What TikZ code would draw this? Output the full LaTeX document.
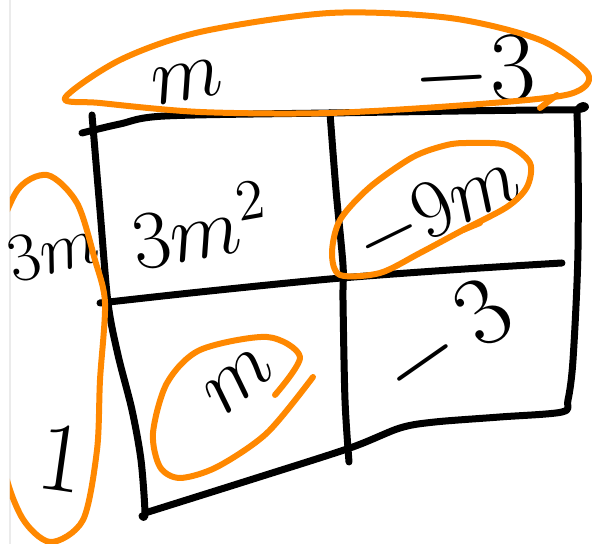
\documentclass[tikz,border=0pt]{standalone}
\usepackage{amsmath}
\usepackage{tikz}
\usetikzlibrary{calc}
\definecolor{penorange}{RGB}{255,136,0}

\begin{document}
\begin{tikzpicture}[x=0.25pt, y=0.25pt, line cap=round, line join=round,
	ink/.style={line width=1.75pt, black},
	marker/.style={line width=1.5pt, penorange},
	term/.style={font=\huge, inner sep=0pt}]
	\useasboundingbox (0,0) rectangle (592,544);
	% edge of the canvas
	\draw[black!8, line width=0.5pt] (10,0) -- (10,544);

	% corners and crossings of the box
	\coordinate (TL) at (92,429);
	\coordinate (TM) at (330,431);
	\coordinate (TR) at (577,428);
	\coordinate (ML) at (100,241);
	\coordinate (MR) at (562,281);
	\coordinate (BL) at (145,31);
	\coordinate (BM) at (349,82);
	\coordinate (BR) at (562,132);

	% box: top, right and bottom side in one stroke, then the left side
	\draw[ink] plot[smooth] coordinates {(82,411) (120,420) (165,428) (TM) (568,434) (TR) (578,294) (573,184) (568,144) (BR) (500,127) (435,122) (400,116) (350,96) (250,64) (BL)};
	\draw[ink] plot[smooth] coordinates {(TL) (100,334) (108,241) (118,189) (132,134) (141,84) (BL) (142,28)};
	% dividing lines
	\draw[ink] plot[smooth] coordinates {(TM) (336,354) (343,279) (343,244) (345,144) (BM)};
	\draw[ink] plot[smooth] coordinates {(ML) (200,252) (330,265) (450,274) (MR)};

	% factors
	\node[term, rotate=10] (topm) at (187,462) {$m$};
	\node[term, font=\Huge, rotate=3] (topthree) at (474,470) {$-3$};
	\node[term, font=\LARGE, rotate=15] (leftm) at (53,294) {$3m$};
	\node[term, font=\Huge, rotate=-8] (leftone) at (62,85) {$1$};

	% partial products
	\node[term, rotate=10] (square) at (200,319) {$3m^2$};
	\node[term, rotate=26] (ninem) at (437,333) {$-9m$};
	\node[term, rotate=40] (onem) at (239,163) {$m$};
	\node[term, font=\Huge, rotate=35] (three) at (447,201) {$-\,3$};

	% orange rings
	\draw[marker] plot[smooth cycle] coordinates {(65,446) (120,484) (200,512) (330,531) (450,526) (540,504) (588,470) (570,450) (480,440) (330,431) (200,432) (100,441)};
	\draw[marker] (557,449) -- (540,436);
	\begin{scope}
		\clip (10,0) rectangle (592,544);
		\draw[marker] plot[smooth cycle] coordinates {(47,369) (77,341) (95,284) (105,241) (100,164) (97,94) (83,24) (50,2) (20,30) (0,100) (-8,270) (15,350)};
	\end{scope}
	\draw[marker] plot[smooth cycle] coordinates {(470,401) (507,399) (530,381) (527,357) (507,337) (463,314) (420,291) (380,271) (340,269) (332,291) (340,324) (370,357) (413,387) (447,399)};
	\draw[marker] (463,314) -- (480,321);
	\draw[marker] plot[smooth] coordinates {(275,149) (300,187) (267,207) (200,194) (167,161) (153,111) (160,77) (180,66) (217,77) (267,111) (313,167)};
\end{tikzpicture}
\end{document}
